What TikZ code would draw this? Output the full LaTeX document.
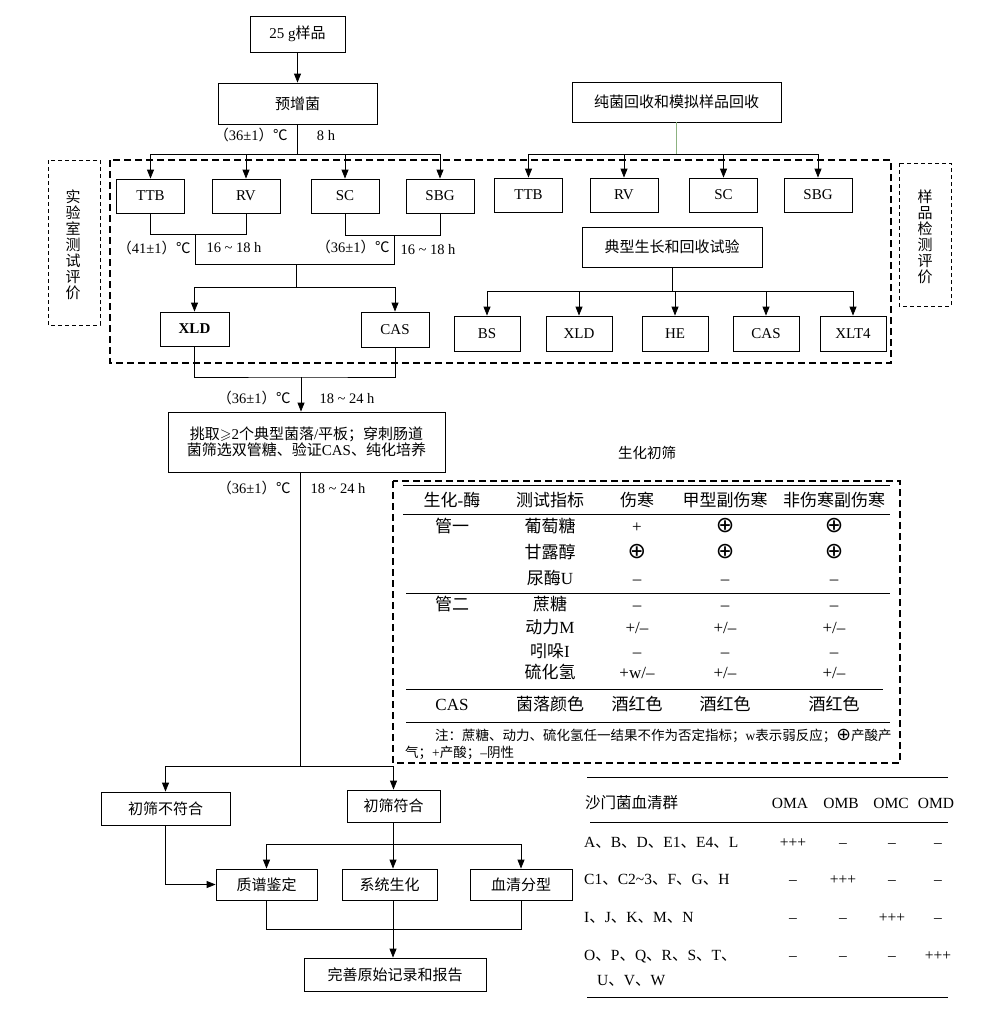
\documentclass[tikz,border=0pt]{standalone}
\usepackage{amssymb}
\usepackage{fontspec}
\usepackage{xcolor}
\usetikzlibrary{arrows.meta, positioning}
\setmainfont{Liberation Serif}
\newfontfamily\zhfont{Noto Sans CJK SC}
\newfontfamily\signfont[Scale=1.3]{DejaVu Sans}
\definecolor{linkgreen}{rgb}{0.55,0.70,0.50}
\newcommand{\zh}[1]{{\zhfont #1}}
\newcommand{\cplus}{{\signfont ⊕}}
\newcommand{\dun}{\zh{、}}
\newcommand{\pmz}{+/–}
\newcommand{\pwz}{+w/–}
\newcommand{\degc}[1]{\zh{（}#1\zh{）℃}}

\begin{document}
\begin{tikzpicture}[x=1pt, y=-1pt,
    box/.style={rectangle, draw, line width=0.8pt, inner sep=2pt, align=center, font=\fontsize{15}{16}\selectfont},
    small/.style={box, minimum width=68pt, minimum height=34pt},
    medium/.style={box, minimum width=66pt, minimum height=35pt},
    arrow/.style={-{Triangle[length=9pt,width=7pt]}, line width=0.8pt},
    link/.style={line width=0.8pt},
    cond/.style={inner sep=0pt, text height=10pt, text depth=3pt, font=\fontsize{14.5}{16}\selectfont},
    frame/.style={line width=1.8pt, dash pattern=on 7pt off 4pt},
    tag/.style={line width=0.7pt, dash pattern=on 4pt off 3pt},
    vlabel/.style={align=center, inner sep=0pt, font=\zhfont\fontsize{15}{16}\selectfont},
    cell/.style={inner sep=0pt, text height=13pt, text depth=2pt, font=\fontsize{17}{20}\selectfont},
    sero/.style={inner sep=0pt, text height=12pt, text depth=2pt, font=\fontsize{15.5}{18}\selectfont},
    note/.style={inner sep=0pt, anchor=west, text height=10pt, text depth=2pt, font=\fontsize{13.5}{15}\selectfont},
    rule/.style={line width=0.8pt}
]
\useasboundingbox (0,0) rectangle (983,1009);

% sample and pre-enrichment
\node[box, minimum width=95pt, minimum height=36pt] (sample) at (297.5,34) {25 g\zh{样品}};
\node[box, minimum width=159pt, minimum height=41pt] (preinc) at (297.5,103.5) {\zh{预增菌}};
\draw[arrow] (sample) -- (preinc);
\node[cond] (c1a) at (251,137) {\degc{36±1}};
\node[cond] (c1b) at (326,137) {8 h};

% selective enrichment, lab side
\node[small] (ttbL) at (150.5,196) {TTB};
\node[small] (rvL) at (246,196) {RV};
\node[small] (scL) at (345,196) {SC};
\node[small] (sbgL) at (440,196) {SBG};
\coordinate (busL) at (297.5,154);
\draw[link] (preinc.south) -- (busL);
\draw[link] (busL -| ttbL) -- (busL -| sbgL);
\foreach \n in {ttbL,rvL,scL,sbgL}
  \draw[arrow] (busL -| \n) -- (\n.north);

% recovery side
\node[box, minimum width=209pt, minimum height=40pt] (recov) at (676.5,102) {\zh{纯菌回收和模拟样品回收}};
\node[small] (ttbR) at (528.5,195) {TTB};
\node[small] (rvR) at (624,195) {RV};
\node[small] (scR) at (723.5,195) {SC};
\node[small] (sbgR) at (818,195) {SBG};
\coordinate (busR) at (676.5,154);
\draw[line width=0.5pt, draw=linkgreen] (recov.south) -- (busR);
\draw[link] (busR -| ttbR) -- (busR -| sbgR);
\foreach \n in {ttbR,rvR,scR,sbgR}
  \draw[arrow] (busR -| \n) -- (\n.north);

\node[box, minimum width=180pt, minimum height=40pt] (typic) at (672,247) {\zh{典型生长和回收试验}};
\node[medium] (bs) at (487,333.5) {BS};
\node[medium] (xldR) at (579,333.5) {XLD};
\node[medium] (he) at (675,333.5) {HE};
\node[medium] (casR) at (766,333.5) {CAS};
\node[medium] (xlt) at (853,333.5) {XLT4};
\coordinate (busT) at (672,291);
\draw[link] (typic.south) -- (busT);
\draw[link] (busT -| bs) -- (busT -| xlt);
\foreach \n in {bs,xldR,he,casR,xlt}
  \draw[arrow] (busT -| \n) -- (\n.north);

% plating, lab side
\node[box, minimum width=69pt, minimum height=34pt] (xldL) at (194.5,329) {\bfseries XLD};
\node[box, minimum width=68pt, minimum height=35pt] (casL) at (395,329.5) {CAS};
\draw[link] (ttbL.south) -- ++(0,21) -| (rvL.south);
\draw[link] (scL.south) -- ++(0,22) -| (sbgL.south);
\coordinate (mA) at (195,234);
\coordinate (mB) at (394,235);
\coordinate (mC) at (296,264);
\coordinate (mD) at (296,287);
\draw[link] (mA) |- (mC);
\draw[link] (mB) |- (mC);
\draw[link] (mC) -- (mD);
\draw[arrow] (mD) -| (xldL.north);
\draw[arrow] (mD) -| (casL.north);
\node[cond] (c2a) at (154,250) {\degc{41±1}};
\node[cond] (c2b) at (234,249) {16 \textasciitilde{} 18 h};
\node[cond] (c3a) at (353,249) {\degc{36±1}};
\node[cond] (c3b) at (428,251) {16 \textasciitilde{} 18 h};

% frames and side tags
\draw[frame] (110,160) rectangle (891,363);
\draw[tag] (48,160) rectangle (100,325);
\node[vlabel] (labtag) at (73,244.5) {实\\验\\室\\测\\试\\评\\价};
\draw[tag] (899,163) rectangle (951,306);
\node[vlabel] (samtag) at (925,237) {样\\品\\检\\测\\评\\价};

% colony picking
\node[box, minimum width=277pt, minimum height=60pt] (pick) at (306.5,442)
  {\zh{挑取}$\geqslant$2\zh{个典型菌落}/\zh{平板；穿刺肠道}\\\zh{菌筛选双管糖、验证}CAS\zh{、纯化培养}};
\coordinate (mE) at (301,377);
\draw[link] (xldL.south) |- (mE) -| (casL.south);
\draw[arrow] (mE) -- (mE |- pick.north);
\node[cond] (c4a) at (254,400) {\degc{36±1}};
\node[cond] (c4b) at (347,400) {18 \textasciitilde{} 24 h};

% screening result
\node[box, minimum width=129pt, minimum height=33pt] (fail) at (165.5,808.5) {\zh{初筛不符合}};
\node[box, minimum width=93pt, minimum height=32pt] (pass) at (393.5,806) {\zh{初筛符合}};
\coordinate (mF) at (300,766);
\draw[link] (pick.south -| mF) -- (mF);
\draw[arrow] (mF) -| (fail.north);
\draw[arrow] (mF) -| (pass.north);
\node[cond] (c5a) at (254,490) {\degc{36±1}};
\node[cond] (c5b) at (338,490) {18 \textasciitilde{} 24 h};

% identification
\node[box, minimum width=101pt, minimum height=31pt] (ms) at (266.5,884.5) {\zh{质谱鉴定}};
\node[box, minimum width=95pt, minimum height=31pt] (bio) at (389.5,884.5) {\zh{系统生化}};
\node[box, minimum width=102pt, minimum height=31pt] (serot) at (521,884.5) {\zh{血清分型}};
\node[box, minimum width=182pt, minimum height=33pt] (report) at (395,974.5) {\zh{完善原始记录和报告}};
\coordinate (mG) at (393,844);
\draw[link] (pass.south -| mG) -- (mG);
\draw[arrow] (mG) -- (mG |- bio.north);
\draw[arrow] (mG) -| (ms.north);
\draw[arrow] (mG) -| (serot.north);
\draw[arrow] (fail.south) |- (ms.west);
\coordinate (mH) at (393,929);
\draw[link] (ms.south) |- (mH) -| (serot.south);
\draw[link] (bio.south -| mH) -- (mH);
\draw[arrow] (mH) -- (mH |- report.north);

% biochemical screening table
\node[cond] (bioTitle) at (647,455) {\zh{生化初筛}};
\draw[frame] (393,481) rectangle (900,763);
\draw[rule] (403,485) -- (890,485);
\draw[rule] (403,514) -- (890,514);
\draw[rule] (406,593) -- (890,593);
\draw[rule] (406,689) -- (883,689);
\draw[rule] (406,722) -- (890,722);
\node[cell] (hdA) at (452,501) {\zh{生化}-\zh{酶}};
\node[cell] (hdB) at (550,501) {\zh{测试指标}};
\node[cell] (hdC) at (637,501) {\zh{伤寒}};
\node[cell] (hdD) at (725,501) {\zh{甲型副伤寒}};
\node[cell] (hdE) at (834,501) {\zh{非伤寒副伤寒}};
\node[cell] (tube1) at (452,527) {\zh{管一}};
\node[cell] (tube2) at (452,605) {\zh{管二}};
\node[cell] (tube3) at (452,705) {CAS};
\foreach \yy/\ta/\tb/\tc/\td in {527/\zh{葡萄糖}/+/\cplus/\cplus,
    553/\zh{甘露醇}/\cplus/\cplus/\cplus,
    579/\zh{尿酶}U/–/–/–,
    605/\zh{蔗糖}/–/–/–,
    628/\zh{动力}M/\pmz/\pmz/\pmz,
    652/\zh{吲哚}I/–/–/–,
    673/\zh{硫化氢}/\pwz/\pmz/\pmz,
    705/\zh{菌落颜色}/\zh{酒红色}/\zh{酒红色}/\zh{酒红色}} {
  \node[cell] (ind\yy) at (550,\yy) {\ta};
  \node[cell] (ty\yy) at (637,\yy) {\tb};
  \node[cell] (pa\yy) at (725,\yy) {\tc};
  \node[cell] (np\yy) at (834,\yy) {\td};
}
\node[note] (noteA) at (435,736) {\zh{注：蔗糖、动力、硫化氢任一结果不作为否定指标；}w\zh{表示弱反应；}\cplus\zh{产酸产}};
\node[note] (noteB) at (405,753) {\zh{气；}+\zh{产酸；}–\zh{阴性}};

% serogroup table
\draw[rule] (587,777) -- (948,777);
\draw[rule] (590,822) -- (948,822);
\draw[rule] (587,997) -- (948,997);
\node[sero, anchor=west] (sgHead) at (585,803) {\zh{沙门菌血清群}};
\foreach \xx/\om in {790/OMA,841/OMB,891/OMC,936/OMD}
  \node[sero] (h\om) at (\xx,803) {\om};
\node[sero, anchor=west] (sg1) at (584,842) {A\dun B\dun D\dun E1\dun E4\dun L};
\node[sero, anchor=west] (sg2) at (584,879) {C1\dun C2\textasciitilde 3\dun F\dun G\dun H};
\node[sero, anchor=west] (sg3) at (584,917) {I\dun J\dun K\dun M\dun N};
\node[sero, anchor=west] (sg4) at (584,955) {O\dun P\dun Q\dun R\dun S\dun T\dun};
\node[sero, anchor=west] (sg4b) at (597,980) {U\dun V\dun W};
\foreach \yy/\va/\vb/\vc/\vd in {842/+++/–/–/–, 879/–/+++/–/–, 917/–/–/+++/–, 955/–/–/–/+++} {
  \node[sero] (oa\yy) at (793,\yy) {\va};
  \node[sero] (ob\yy) at (843,\yy) {\vb};
  \node[sero] (oc\yy) at (892,\yy) {\vc};
  \node[sero] (od\yy) at (938,\yy) {\vd};
}

\end{tikzpicture}
\end{document}
